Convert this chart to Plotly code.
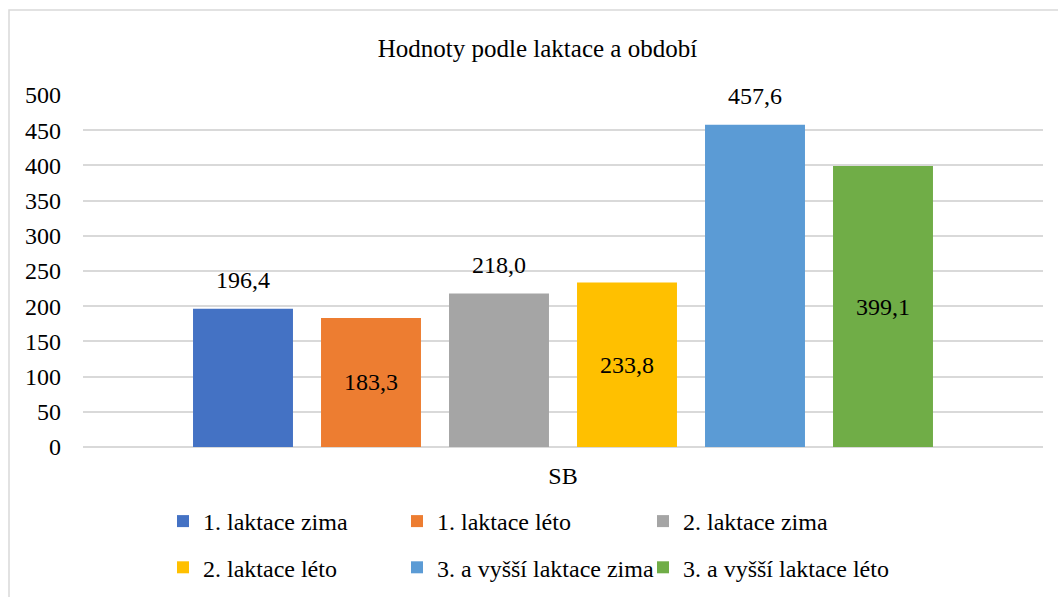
import plotly.graph_objects as go

categories = ["SB"]
series_names = ["1. laktace zima", "1. laktace léto", "2. laktace zima",
                "2. laktace léto", "3. a vyšší laktace zima", "3. a vyšší laktace léto"]
series_values = [[196.4], [183.3], [218.0], [233.8], [457.6], [399.1]]
label_outside = [True, False, True, False, True, False]
colors = ["#4472C4", "#ED7D31", "#A5A5A5", "#FFC000", "#5B9BD5", "#70AD47"]
legend_ids = ["legend", "legend2", "legend3", "legend", "legend2", "legend3"]
y_ticks = list(range(0, 501, 50))

FONT = "Liberation Serif, Times New Roman, Times, serif"
FS = 24

fig = go.Figure()
for i, name in enumerate(series_names):
    fig.add_trace(go.Bar(
        x=categories, y=series_values[i], name=name,
        marker=dict(color=colors[i], line=dict(width=0)),
        texttemplate="%{y:.1f}",
        textposition="none" if label_outside[i] else "inside",
        insidetextanchor="middle",
        textfont=dict(family=FONT, size=FS, color="black"),
        legend=legend_ids[i], legendgroup=str(i),
    ))
# outside labels (aligned with bars via grouped scatter)
for i, name in enumerate(series_names):
    fig.add_trace(go.Scatter(
        x=categories, y=series_values[i], name=name + " popisek",
        mode="markers+text",
        marker=dict(size=22, color="rgba(0,0,0,0)"),
        texttemplate="%{y:.1f}" if label_outside[i] else "",
        textposition="top center",
        textfont=dict(family=FONT, size=FS, color="black"),
        showlegend=False, hoverinfo="skip", cliponaxis=False,
    ))

# plot area: x 83..1043, y 95..447 px
W, H = 1058, 597
L, R, T, B = 83, 15, 95, 150
pw, ph = W - L - R, H - T - B

def px(xp):
    return (xp - L) / pw

def py(yp):
    return (H - B - yp) / ph

leg_common = dict(
    orientation="v", xanchor="left", yanchor="top",
    font=dict(family=FONT, size=FS, color="black"),
    bgcolor="rgba(0,0,0,0)", traceorder="grouped", tracegroupgap=12,
)
fig.update_layout(
    width=W, height=H,
    margin=dict(l=L, r=R, t=T, b=B, autoexpand=False),
    paper_bgcolor="white", plot_bgcolor="white",
    separators=",.",
    barmode="group", bargap=0.2, bargroupgap=0.219,
    scattermode="group", scattergap=0.2,
    font=dict(family=FONT, size=FS, color="black"),
    title=dict(text="Hodnoty podle laktace a období", x=0.508, xanchor="center",
               y=1 - 48 / H, yanchor="middle",
               font=dict(family=FONT, size=25, color="black")),
    legend=dict(x=px(163), y=py(499), **leg_common),
    legend2=dict(x=px(397), y=py(499), **leg_common),
    legend3=dict(x=px(643), y=py(499), **leg_common),
    xaxis=dict(showgrid=False, showline=False, zeroline=False, automargin=False,
               ticklabelstandoff=12, tickfont=dict(family=FONT, size=FS, color="black")),
    yaxis=dict(range=[0, 500], tickvals=y_ticks, showgrid=True, gridcolor="#d9d9d9",
               gridwidth=2, zeroline=True, zerolinecolor="#d9d9d9", zerolinewidth=2,
               showline=False, ticklabelstandoff=21, automargin=False,
               tickfont=dict(family=FONT, size=FS, color="black")),
    shapes=[dict(type="rect", xref="paper", yref="paper",
                 x0=px(9), x1=px(1070), y0=py(610), y1=py(10),
                 line=dict(color="#d9d9d9", width=1.5), fillcolor="rgba(0,0,0,0)",
                 layer="below")],
)

fig.write_html("out.html", config={"displayModeBar": False},
               post_script="document.body.style.margin='0';")
